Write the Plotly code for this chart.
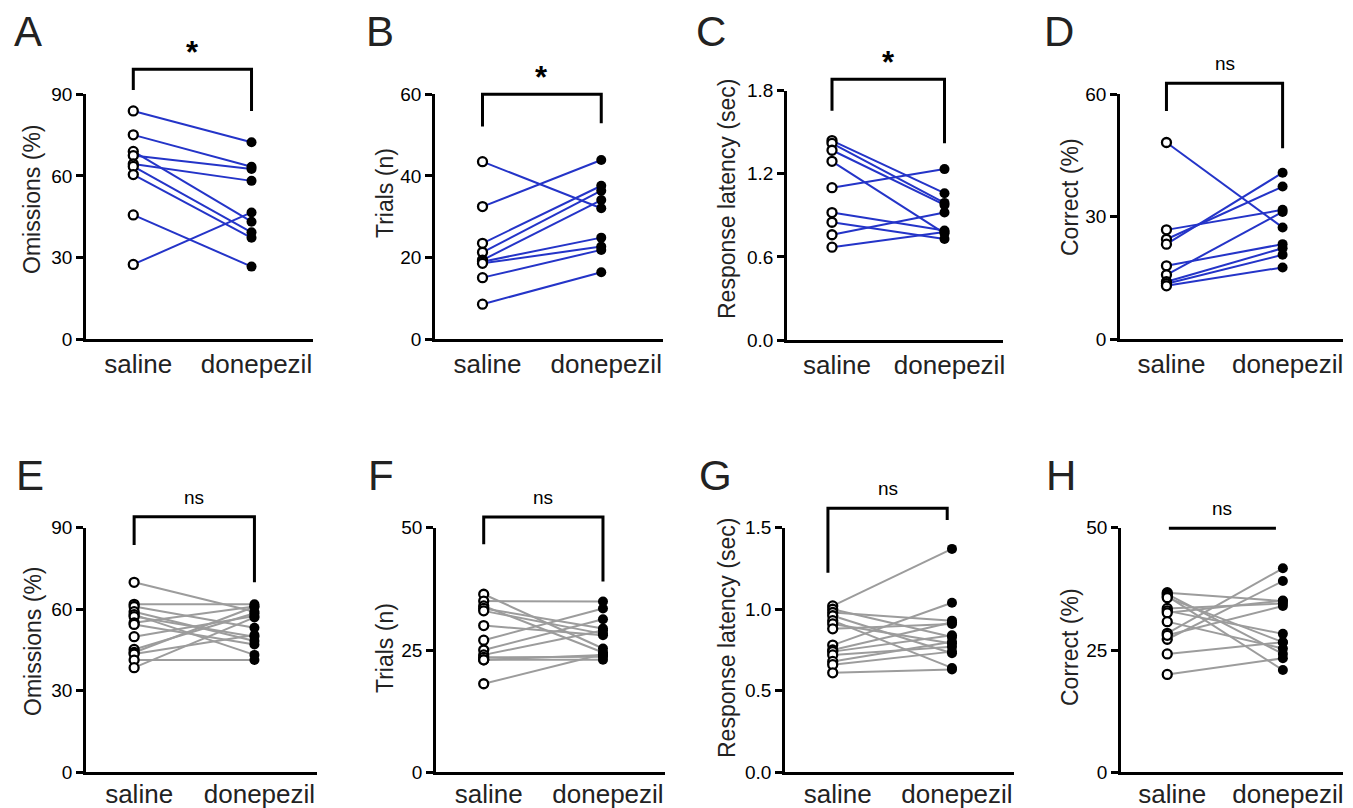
import plotly.graph_objects as go

# ---------------- data ----------------
conditions = ["saline", "donepezil"]

A_saline    = [83.9, 75.1, 69.0, 67.5, 64.4, 63.5, 60.5, 45.7, 27.5]
A_donepezil = [72.4, 63.4, 43.2, 62.6, 58.2, 39.3, 37.3, 26.7, 46.6]

B_saline    = [43.5, 32.5, 23.5, 21.3, 19.4, 19.0, 18.6, 15.1, 8.6]
B_donepezil = [32.1, 43.9, 37.6, 36.4, 34.1, 24.9, 22.7, 21.9, 16.4]

C_saline    = [1.44, 1.42, 1.37, 1.29, 1.10, 0.92, 0.85, 0.76, 0.67]
C_donepezil = [1.06, 0.99, 0.975, 0.77, 1.234, 0.79, 0.73, 0.92, 0.78]

D_saline    = [48.2, 26.8, 24.5, 23.3, 18.0, 15.8, 14.1, 13.6, 13.1]
D_donepezil = [27.4, 31.7, 37.4, 40.8, 23.3, 31.2, 22.3, 20.7, 17.6]

E_saline    = [69.9, 61.8, 61.0, 59.1, 58.0, 57.3, 55.0, 54.4, 49.9, 45.2, 44.1, 43.5, 41.3, 38.5]
E_donepezil = [59.1, 61.8, 53.2, 48.3, 43.2, 49.9, 61.0, 47.0, 57.5, 58.5, 60.9, 50.5, 41.3, 57.0]

F_saline    = [36.4, 35.0, 34.0, 33.5, 33.0, 30.0, 27.0, 25.0, 24.0, 23.5, 23.0, 23.0, 18.1]
F_donepezil = [25.3, 34.9, 24.5, 29.4, 28.3, 28.0, 33.5, 31.3, 29.0, 23.6, 23.0, 24.0, 24.2]

G_saline    = [1.02, 1.00, 0.98, 0.96, 0.93, 0.91, 0.88, 0.78, 0.75, 0.74, 0.72, 0.68, 0.66, 0.61]
G_donepezil = [1.37, 0.83, 0.93, 0.73, 0.64, 0.79, 0.91, 1.04, 0.92, 0.84, 0.77, 0.80, 0.74, 0.63]

H_saline    = [36.7, 36.4, 36.0, 35.7, 33.5, 33.0, 32.6, 30.8, 28.4, 27.2, 28.0, 24.2, 20.0]
H_donepezil = [35.0, 24.2, 20.9, 26.6, 34.5, 28.3, 35.1, 25.3, 41.7, 39.1, 34.0, 26.6, 23.3]

y_titles = ["Omissions (%)", "Trials (n)", "Response latency (sec)", "Correct (%)",
            "Omissions (%)", "Trials (n)", "Response latency (sec)", "Correct (%)"]
y_ticks = [[0, 30, 60, 90], [0, 20, 40, 60], [0, 0.6, 1.2, 1.8], [0, 30, 60],
           [0, 30, 60, 90], [0, 25, 50], [0, 0.5, 1.0, 1.5], [0, 25, 50]]
sig_labels = ["*", "*", "*", "ns", "ns", "ns", "ns", "ns"]
letters = ["A", "B", "C", "D", "E", "F", "G", "H"]

# ---------------- layout / style ----------------
W, H = 1353, 808
PAGE_OFFSET = 8  # the html page body margin shifts the figure by this many pixels
FONT = "Liberation Sans, Arial, Helvetica, sans-serif"
BLUE = "#2434c8"
GRAY = "#9c9c9c"
XR = [-0.4, 1.52]

# pixel boxes (in the final picture) of each plot area: left, right, top, bottom
boxes = [(86, 313, 94.3, 339.3), (435, 663, 94.3, 339.3), (787, 1003, 90.7, 340), (1120, 1343, 94.3, 339.3),
         (86, 317, 527.7, 772.3), (436, 665, 527.7, 772.3), (785, 1014, 527.7, 772.3), (1121, 1343, 527.7, 772.3)]
fmts = ["", "", ".1f", "", "", "", ".1f", ""]
colors = [BLUE] * 4 + [GRAY] * 4
label_standoff = [0, 0, 0, 0, -3, -3, -3, -3]
# bracket geometry (data units): x0, x1, top, left-arm end, right-arm end
brackets = [(0, 1, 99.2, 91.6, 83.9), (0, 1, 60.0, 52.1, 52.9), (0, 1, 1.882, 1.656, 1.420),
            (0, 1, 62.7, 55.9, 46.8), (0, 1, 94.0, 83.6, 69.9), (0, 1, 52.2, 46.6, 39.0),
            (-0.04, 0.96, 1.619, 1.224, 1.547), (0.014, 0.94, 49.9, 49.9, 49.9)]
title_x = [32, 385, 727, 1070, 33, 385, 727, 1070]
title_y = [199, 193, 199, 197, 641, 648, 638, 647]
letter_x = [12, 364, 694, 1042, 14, 366, 697, 1044]
letter_base = [47, 47, 47, 47, 491, 491, 491, 491]

series = [(A_saline, A_donepezil), (B_saline, B_donepezil), (C_saline, C_donepezil), (D_saline, D_donepezil),
          (E_saline, E_donepezil), (F_saline, F_donepezil), (G_saline, G_donepezil), (H_saline, H_donepezil)]

fig = go.Figure()
shapes, annotations = [], []

def px2paper_x(px):
    return (px - PAGE_OFFSET) / W

def px2paper_y(py):
    return 1 - (py - PAGE_OFFSET) / H

def to_paper_x(box, x):
    return px2paper_x(box[0] + (x - XR[0]) / (XR[1] - XR[0]) * (box[1] - box[0]))

def to_paper_y(box, ymax, v):
    return px2paper_y(box[3] - v / ymax * (box[3] - box[2]))

for i in range(8):
    sal, don = series[i]
    ax = "" if i == 0 else str(i + 1)
    xa, ya = "x" + ax, "y" + ax
    box = boxes[i]
    ymax = y_ticks[i][-1]

    lx, ly = [], []
    for s, d in zip(sal, don):
        lx += [0, 1, None]
        ly += [s, d, None]
    fig.add_trace(go.Scatter(x=lx, y=ly, mode="lines", xaxis=xa, yaxis=ya,
                             line=dict(color=colors[i], width=2), showlegend=False, hoverinfo="skip"))
    fig.add_trace(go.Scatter(x=[0] * len(sal), y=sal, mode="markers", xaxis=xa, yaxis=ya,
                             marker=dict(symbol="circle", size=9, color="white",
                                         line=dict(color="black", width=2.3)), showlegend=False))
    fig.add_trace(go.Scatter(x=[1] * len(don), y=don, mode="markers", xaxis=xa, yaxis=ya,
                             marker=dict(symbol="circle", size=10, color="black",
                                         line=dict(width=0)), showlegend=False))

    xd = [px2paper_x(box[0]), px2paper_x(box[1])]
    yd = [px2paper_y(box[3]), px2paper_y(box[2])]
    fig.layout["xaxis" + ax] = dict(domain=xd, anchor=ya, range=XR, showline=True, linecolor="black",
                                    linewidth=2.5, showgrid=False, zeroline=False, ticks="",
                                    automargin=False,
                                    tickvals=[0, 1], ticktext=conditions,
                                    ticklabelstandoff=label_standoff[i],
                                    ticklabelshift=5,
                                    tickfont=dict(family=FONT, size=26, color="#222"))
    fig.layout["yaxis" + ax] = dict(domain=yd, anchor=xa, range=[0, ymax], showline=True, linecolor="black",
                                    linewidth=2.5, showgrid=False, zeroline=False, ticks="outside",
                                    automargin=False,
                                    ticklen=7, tickwidth=2.5, tickcolor="black",
                                    tickvals=y_ticks[i], tickformat=fmts[i],
                                    tickfont=dict(family=FONT, size=19, color="black"))

    # significance bracket
    bx0, bx1, btop, bl, br = brackets[i]
    px0, px1 = to_paper_x(box, bx0), to_paper_x(box, bx1)
    pt, pl, pr = to_paper_y(box, ymax, btop), to_paper_y(box, ymax, bl), to_paper_y(box, ymax, br)
    shapes.append(dict(type="path", xref="paper", yref="paper",
                       path=f"M {px0},{pl} L {px0},{pt} L {px1},{pt} L {px1},{pr}",
                       line=dict(color="black", width=3)))
    if sig_labels[i] == "*":
        annotations.append(dict(text="<b>*</b>", xref="paper", yref="paper", x=(px0 + px1) / 2, y=pt,
                                xanchor="center", yanchor="bottom", yshift=-3, showarrow=False,
                                font=dict(family=FONT, size=31, color="black")))
    else:
        annotations.append(dict(text="ns", xref="paper", yref="paper", x=(px0 + px1) / 2, y=pt,
                                xanchor="center", yanchor="bottom", yshift=7, showarrow=False,
                                font=dict(family=FONT, size=19, color="black")))

    # y-axis title
    annotations.append(dict(text=y_titles[i], xref="paper", yref="paper", x=px2paper_x(title_x[i]),
                            y=px2paper_y(title_y[i]), textangle=-90, xanchor="center", yanchor="middle",
                            showarrow=False, font=dict(family=FONT, size=23, color="#222")))
    # panel letter
    annotations.append(dict(text=letters[i], xref="paper", yref="paper", x=px2paper_x(letter_x[i]),
                            y=px2paper_y(letter_base[i] + 10), xanchor="left", yanchor="bottom",
                            showarrow=False, font=dict(family=FONT, size=42, color="#222")))

fig.update_layout(template="none", width=W, height=H, margin=dict(l=0, r=0, t=0, b=0, autoexpand=False),
                  paper_bgcolor="white", plot_bgcolor="white",
                  shapes=shapes, annotations=annotations, font=dict(family=FONT))

fig.write_html("out.html")
